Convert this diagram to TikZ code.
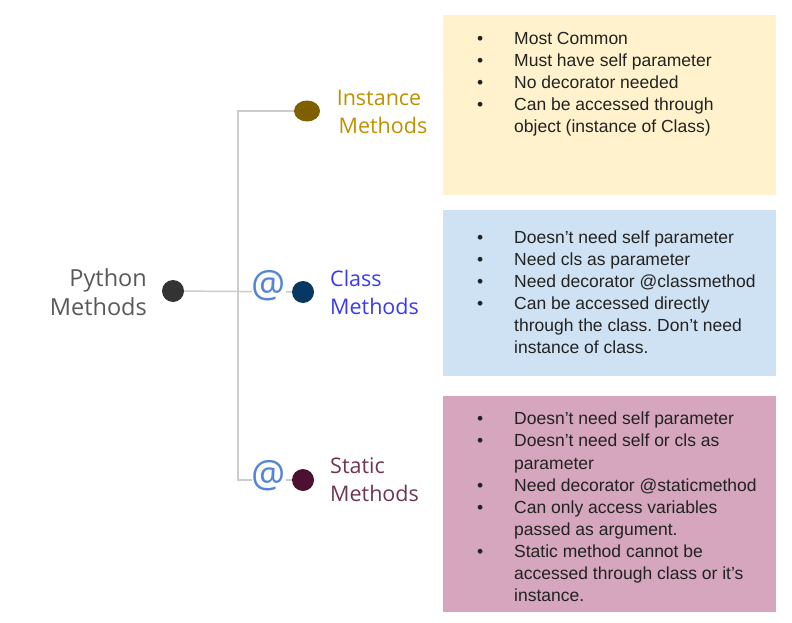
\documentclass[tikz,border=0pt]{standalone}
\usepackage{fontspec}
\setmainfont{Liberation Sans}
\newfontfamily\labelfont{Open Sans}
\usetikzlibrary{shapes.geometric}
\frenchspacing

\definecolor{linegray}{HTML}{CCCCCC}
\definecolor{notegray}{HTML}{222222}
\definecolor{instfill}{HTML}{FFF2CC}
\definecolor{clsfill}{HTML}{CFE2F3}
\definecolor{stfill}{HTML}{D5A6BD}
\definecolor{pytext}{HTML}{595959}
\definecolor{insttext}{HTML}{BF9000}
\definecolor{clstext}{HTML}{3A3AF2}
\definecolor{sttext}{HTML}{6F3552}
\definecolor{pydotc}{HTML}{333333}
\definecolor{instdotc}{HTML}{7F6000}
\definecolor{clsdotc}{HTML}{073763}
\definecolor{stdotc}{HTML}{4C1130}
\definecolor{atblue}{HTML}{5585D6}

\tikzset{
  dot/.style={circle, inner sep=0pt, minimum size=22pt},
  notebox/.style={inner sep=0pt, anchor=north west, minimum width=333pt},
  notetext/.style={anchor=north west, inner sep=0pt, align=left, text=notegray,
    font=\fontsize{17.5}{21.9}\selectfont},
  methodlabel/.style={inner sep=0pt, font=\labelfont\fontsize{21.5}{28}\selectfont},
  atsign/.style={inner sep=0pt, fill=white, text=atblue,
    font=\labelfont\fontsize{38}{38}\selectfont},
  branch/.style={draw=linegray, line width=1.5pt}
}
\newcommand{\itm}{\makebox[37pt][l]{\textbullet}}

\begin{document}
\begin{tikzpicture}[x=1pt, y=-1pt]
    \useasboundingbox (0,0) rectangle (792,623);

    % note boxes
    \node [notebox, fill=instfill, minimum height=180pt] (instbox) at (443,15) {};
    \node [notebox, fill=clsfill, minimum height=166pt] (clsbox) at (443,210) {};
    \node [notebox, fill=stfill, minimum height=216pt] (stbox) at (443,396) {};

    \node [notetext] (instnote) at (477,32) {\itm Most Common\\
        \itm Must have self parameter\\
        \itm No decorator needed\\
        \itm Can be accessed through\\
        \hspace*{37pt}object (instance of Class)};
    \node [notetext] (clsnote) at (477,231) {\itm Doesn’t need self parameter\\
        \itm Need cls as parameter\\
        \itm Need decorator @classmethod\\
        \itm Can be accessed directly\\
        \hspace*{37pt}through the class. Don’t need\\
        \hspace*{37pt}instance of class.};
    \node [notetext, font=\fontsize{17.5}{22.1}\selectfont] (stnote) at (477,412) {\itm Doesn’t need self parameter\\
        \itm Doesn’t need self or cls as\\
        \hspace*{37pt}parameter\\
        \itm Need decorator @staticmethod\\
        \itm Can only access variables\\
        \hspace*{37pt}passed as argument.\\
        \itm Static method cannot be\\
        \hspace*{37pt}accessed through class or it’s\\
        \hspace*{37pt}instance.};

    % tree
    \node [dot, fill=pydotc] (pydot) at (173,291) {};
    \node [ellipse, inner sep=0pt, minimum width=26pt, minimum height=21pt, fill=instdotc] (instdot) at (307,111) {};
    \node [dot, fill=clsdotc] (clsdot) at (303,292) {};
    \node [dot, fill=stdotc] (stdot) at (303,480) {};
    \coordinate (top) at (238,111);
    \coordinate (bot) at (238,480);

    \draw [branch] (pydot) -- (clsdot);
    \draw [branch] (instdot) -- (top) -- (bot) -- (stdot);

    \node [atsign] (clsat) at (269,286) {@};
    \node [atsign] (stat) at (269,476) {@};

    \node [methodlabel, anchor=east, align=right, text=pytext, font=\labelfont\fontsize{23.5}{28.5}\selectfont] (pylabel) at (147,292) {Python\\Methods};
    \node [methodlabel, align=center, text=insttext] (instlabel) at (379,112) {Instance\\\hspace*{8pt}Methods};
    \node [methodlabel, anchor=west, align=left, text=clstext] (clslabel) at (330,292) {Class\\Methods};
    \node [methodlabel, anchor=west, align=left, text=sttext] (stlabel) at (330,480) {Static\\Methods};
\end{tikzpicture}
\end{document}
